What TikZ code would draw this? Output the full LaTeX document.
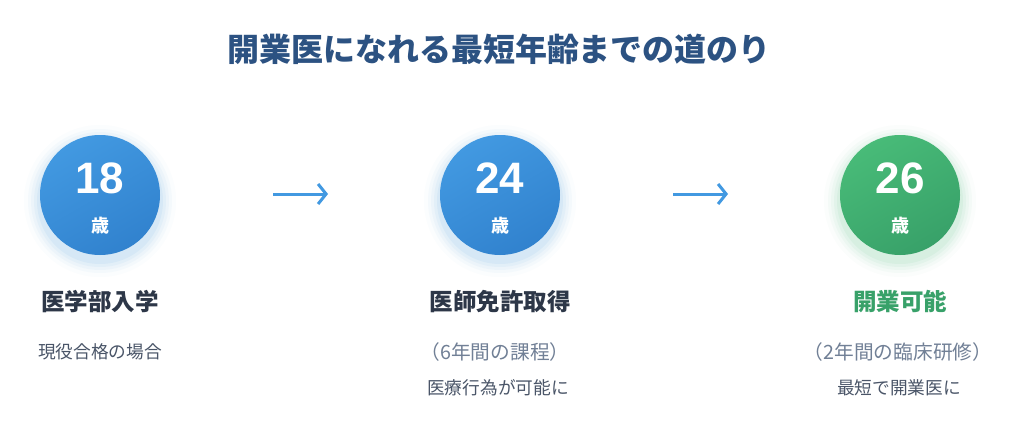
\documentclass[tikz,border=0pt]{standalone}
\usepackage{fontspec}
\setmainfont{Noto Sans CJK JP}
\newfontfamily\numfont{Liberation Sans}
\usetikzlibrary{arrows.meta}
\definecolor{titleblue}{HTML}{2C5282}
\definecolor{darktext}{HTML}{2D3748}
\definecolor{graytext}{HTML}{4A5568}
\definecolor{lighttext}{HTML}{718096}
\definecolor{blueA}{HTML}{4299E1}
\definecolor{blueB}{HTML}{3182CE}
\definecolor{greenA}{HTML}{48BB78}
\definecolor{greenB}{HTML}{38A169}
\definecolor{arrowblue}{HTML}{4299E1}
\tikzset{
  agecircle/.style={circle, minimum size=120pt, inner sep=0pt},
  num/.style={text=white, font=\numfont\bfseries\fontsize{44}{44}\selectfont},
  sai/.style={text=white, font=\bfseries\fontsize{18}{18}\selectfont},
  headlbl/.style={text=darktext, font=\bfseries\fontsize{23.5}{23.5}\selectfont},
  sublbl/.style={text=graytext, font=\fontsize{17.7}{17.7}\selectfont},
  paren/.style={text=lighttext, font=\fontsize{19.7}{19.7}\selectfont},
  steparrow/.style={draw=arrowblue, line width=3pt, -{Straight Barb[length=8pt,width=20pt,line width=3pt]}},
}
\newcommand{\glow}[2]{%
  \foreach \r/\o in {76/0.02,72/0.035,69/0.045,66/0.055,63/0.07}{
    \fill[#2, opacity=\o] (#1) ++(0,6) circle (\r);
  }%
}
\begin{document}
\begin{tikzpicture}[x=1pt,y=-1pt]
\useasboundingbox (0,0) rectangle (1013,442);
\fill[white] (0,0) rectangle (1013,442);
\node[text=titleblue, font=\bfseries\fontsize{32}{32}\selectfont] (title) at (499,49) {開業医になれる最短年齢までの道のり};
% glows
\glow{100,195}{blueA}
\glow{500,195}{blueA}
\glow{900,195}{greenA}
% circles
\shade[left color=blueA, right color=blueB, shading angle=30] (100,195) circle (60);
\shade[left color=blueA, right color=blueB, shading angle=30] (500,195) circle (60);
\shade[left color=greenA, right color=greenB, shading angle=30] (900,195) circle (60);
\node[agecircle] (c1) at (100,195) {};
\node[agecircle] (c2) at (500,195) {};
\node[agecircle] (c3) at (900,195) {};
\node[num] (n1) at (100,178) {18};
\node[num] (n2) at (500,178) {24};
\node[num] (n3) at (900,178) {26};
\node[sai] (s1) at (100,226) {歳};
\node[sai] (s2) at (500,226) {歳};
\node[sai] (s3) at (900,226) {歳};
% arrows
\coordinate (a1s) at (273,194);
\coordinate (a1e) at (328,194);
\coordinate (a2s) at (673,194);
\coordinate (a2e) at (728,194);
\draw[steparrow] (a1s) -- (a1e);
\draw[steparrow] (a2s) -- (a2e);
% labels
\node[headlbl] (h1) at (100,302) {医学部入学};
\node[headlbl] (h2) at (500,302) {医師免許取得};
\node[headlbl, text=greenB] (h3) at (900,302) {開業可能};
\node[sublbl] (d1) at (100,352) {現役合格の場合};
\node[paren] (p2) at (495,352) {（6年間の課程）};
\node[sublbl] (d2) at (498,388) {医療行為が可能に};
\node[paren] (p3) at (898,352) {（2年間の臨床研修）};
\node[sublbl] (d3) at (899,388) {最短で開業医に};
\end{tikzpicture}
\end{document}
